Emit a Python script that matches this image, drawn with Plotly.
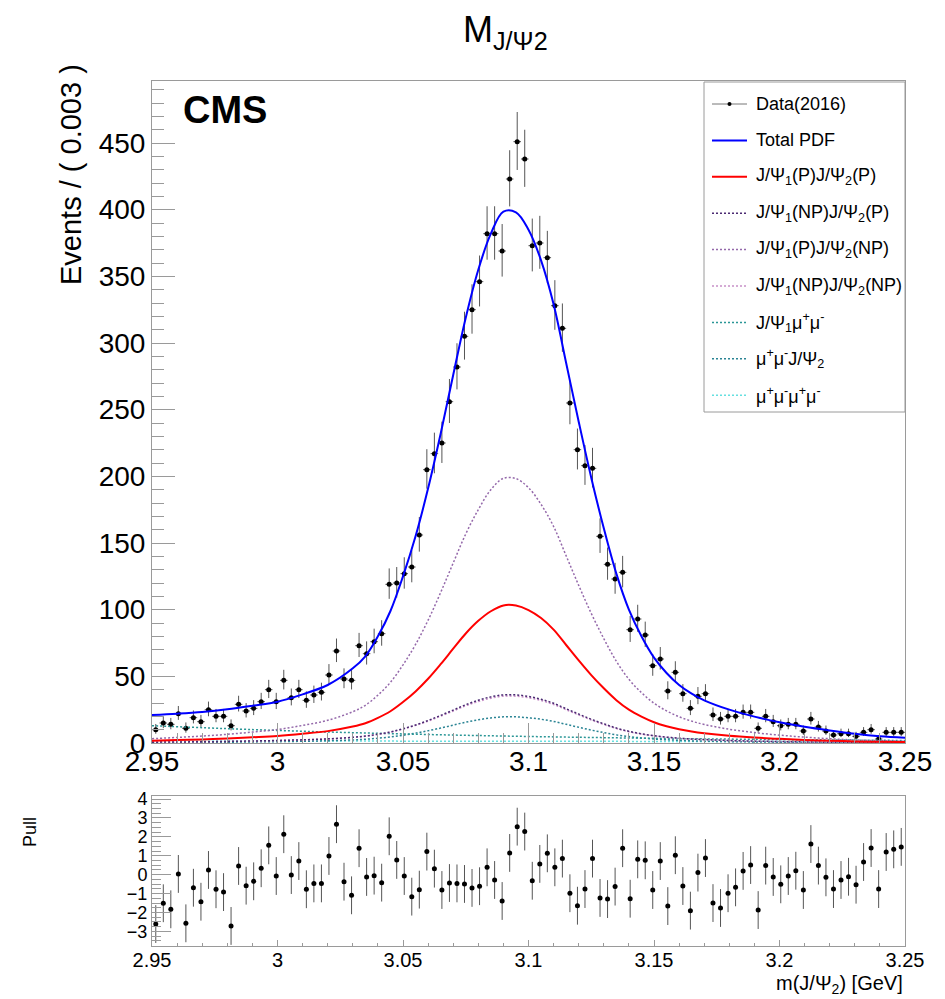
import numpy as np
import plotly.graph_objects as go

FONT = "Liberation Sans, Arial, Helvetica, sans-serif"
AXIS_GREY = "#9a9a9a"

# Binning of the data histogram
BIN_LO = 2.95
BIN_W = 0.003

# Events per bin
counts = [10, 15, 14, 22, 11, 19, 16, 25, 20, 20,
          13, 29, 24, 26, 31, 40, 31, 47, 34, 40,
          32, 36, 38, 51, 69, 48, 47, 73, 67, 76,
          82, 119, 120, 127, 132, 156, 205, 217, 225, 256,
          282, 305, 325, 346, 382, 382, 369, 423, 451, 438,
          373, 375, 364, 328, 311, 255, 220, 208, 206, 155,
          134, 123, 128, 85, 93, 81, 58, 63, 39, 53,
          37, 26, 35, 37, 21, 18, 20, 20, 23, 23,
          11, 20, 16, 13, 14, 14, 9, 18, 12, 9,
          6, 7, 7, 5, 8, 10, 3, 8, 8, 8]

# Pull per bin
pulls = [-2.61, -1.51, -1.83, 0.04, -2.57, -0.69, -1.43, 0.25, -0.77, -0.92,
         -2.71, 0.46, -0.58, -0.35, 0.34, 1.55, -0.07, 2.14, -0.02, 0.72,
         -0.77, -0.46, -0.46, 0.99, 2.67, -0.37, -1.09, 1.40, -0.12, -0.05,
         -0.42, 2.03, 0.78, -0.07, -1.16, -0.79, 1.22, 0.32, -0.81, -0.44,
         -0.46, -0.49, -0.70, -0.61, 0.39, -0.28, -1.39, 1.15, 2.54, 2.28,
         -0.32, 0.57, 1.13, 0.39, 0.85, -0.98, -1.64, -0.76, 0.85, -1.23,
         -1.29, -0.63, 1.40, -1.27, 0.81, 0.76, -0.81, 0.72, -1.66, 1.03,
         -0.60, -1.90, 0.11, 0.88, -1.50, -1.76, -0.98, -0.67, 0.20, 0.51,
         -1.87, 0.48, -0.12, -0.51, -0.07, 0.21, -0.81, 1.62, 0.48, -0.14,
         -0.76, -0.28, -0.11, -0.53, 0.67, 1.41, -0.76, 1.20, 1.34, 1.47]

# Fit curves sampled along the mass axis
curve_x = [2.95, 2.96, 2.97, 2.98, 2.99, 3.00, 3.01, 3.02, 3.03,
           3.035, 3.04, 3.045, 3.05, 3.055, 3.06, 3.065, 3.07, 3.075, 3.08,
           3.085, 3.09, 3.095, 3.10, 3.105, 3.11, 3.115, 3.12, 3.125, 3.13,
           3.135, 3.14, 3.145, 3.15, 3.155, 3.16, 3.165,
           3.17, 3.18, 3.19, 3.20, 3.21, 3.22, 3.23, 3.24, 3.25]

total_pdf = [21, 22, 23.3, 25.3, 28, 31, 36.5, 43.5, 56,
             65, 80, 99, 125, 155, 191, 232, 276, 319, 355,
             382, 398.5, 398, 385, 362, 329, 285, 241, 199, 161,
             127, 100, 80, 64, 52.5, 43.5, 37,
             32, 25, 19.8, 15.6, 12.2, 9.4, 6.9, 5.0, 3.9]

p_p = [1.7, 2.2, 2.7, 3.4, 4.3, 5.3, 6.9, 8.9, 12.3,
       14.8, 18.8, 23.8, 30.7, 38.7, 48.2, 59.1, 70.7, 82.1, 91.6,
       98.8, 103.2, 103.1, 99.7, 93.7, 85.0, 73.5, 61.9, 50.9, 41.0,
       32.1, 25.0, 19.8, 15.6, 12.6, 10.3, 8.6,
       7.3, 5.4, 4.1, 3.1, 2.3, 1.7, 1.2, 0.9, 0.7]

np_p = [0.6, 0.8, 0.9, 1.2, 1.5, 1.9, 2.4, 3.1, 4.3,
        5.2, 6.6, 8.3, 10.7, 13.5, 16.9, 20.7, 24.7, 28.7, 32.1,
        34.6, 36.1, 36.1, 34.9, 32.8, 29.8, 25.7, 21.7, 17.8, 14.4,
        11.2, 8.8, 6.9, 5.5, 4.4, 3.6, 3.0,
        2.6, 1.9, 1.4, 1.1, 0.8, 0.6, 0.4, 0.3, 0.2]

p_np = [3.2, 4.2, 5.2, 6.5, 8.2, 10.1, 13.2, 17.0, 23.5,
        28.3, 35.9, 45.5, 58.6, 73.9, 92.1, 112.9, 135.0, 156.8, 175.0,
        190.0, 198.5, 198.3, 191.5, 179.0, 162.4, 140.4, 118.2, 97.2, 78.3,
        61.3, 47.8, 37.8, 29.8, 24.1, 19.7, 16.4,
        13.9, 10.3, 7.8, 5.9, 4.4, 3.2, 2.3, 1.7, 1.3]

np_np = [0.6, 0.7, 0.9, 1.2, 1.5, 1.8, 2.3, 3.0, 4.2,
         5.0, 6.4, 8.1, 10.4, 13.2, 16.4, 20.1, 24.0, 27.9, 31.1,
         33.6, 35.1, 35.1, 33.9, 31.9, 28.9, 25.0, 21.0, 17.3, 13.9,
         10.9, 8.5, 6.7, 5.3, 4.3, 3.5, 2.9,
         2.5, 1.8, 1.4, 1.1, 0.8, 0.6, 0.4, 0.3, 0.2]

mumu_jpsi2 = [0.3, 0.4, 0.5, 0.6, 0.8, 1.0, 1.3, 1.7, 2.3,
              2.8, 3.6, 4.5, 5.8, 7.4, 9.2, 11.2, 13.4, 15.6, 17.4,
              18.8, 19.6, 19.6, 18.9, 17.8, 16.2, 14.0, 11.8, 9.7, 7.8,
              6.1, 4.8, 3.8, 3.0, 2.4, 2.0, 1.6,
              1.4, 1.0, 0.8, 0.6, 0.4, 0.3, 0.2, 0.2, 0.1]

bkg_x = [2.95, 3.00, 3.05, 3.10, 3.15, 3.20, 3.25]
jpsi1_mumu = [13.0, 9.4, 6.8, 4.9, 3.5, 2.6, 1.9]
mumu_mumu = [1.6, 1.5, 1.4, 1.3, 1.2, 1.1, 1.0]

# name, values, x, colour, width, dash
CURVES = [
    ("Total PDF", total_pdf, curve_x, "#0000ff", 2, "solid"),
    ("J/Ψ<sub>1</sub>(P)J/Ψ<sub>2</sub>(P)", p_p, curve_x, "#ff0000", 2, "solid"),
    ("J/Ψ<sub>1</sub>(NP)J/Ψ<sub>2</sub>(P)", np_p, curve_x, "#4a2a72", 1.5, "2px,2px"),
    ("J/Ψ<sub>1</sub>(P)J/Ψ<sub>2</sub>(NP)", p_np, curve_x, "#9468aa", 1.5, "2px,2px"),
    ("J/Ψ<sub>1</sub>(NP)J/Ψ<sub>2</sub>(NP)", np_np, curve_x, "#c890c8", 1.5, "2px,2px"),
    ("J/Ψ<sub>1</sub>μ<sup>+</sup>μ<sup>-</sup>", jpsi1_mumu, bkg_x, "#2a9696", 1.5, "2px,2px"),
    ("μ<sup>+</sup>μ<sup>-</sup>J/Ψ<sub>2</sub>", mumu_jpsi2, curve_x, "#2a8494", 1.5, "2px,2px"),
    ("μ<sup>+</sup>μ<sup>-</sup>μ<sup>+</sup>μ<sup>-</sup>", mumu_mumu, bkg_x, "#66e0e0", 1.5, "2px,2px"),
]

# Page geometry: the html body has an 8px margin, so the figure is drawn
# 8px in from the top-left corner of the window.
OFF = 8
W, H = 945 - OFF, 999 - OFF
PLOT_L, PLOT_R, PLOT_T, PLOT_B = 152, 905, 81, 946   # in window pixels
PW = PLOT_R - PLOT_L
PH = PLOT_B - PLOT_T
MARGIN = dict(l=PLOT_L - OFF, r=W - (PLOT_R - OFF), t=PLOT_T - OFF, b=H - (PLOT_B - OFF))


def px_x(px):
    return (px - PLOT_L) / PW


def px_y(py):
    return (PLOT_B - py) / PH


def poisson_errors(n):
    """68% Poisson interval (Wilson-Hilferty), as RooFit draws it."""
    n = np.asarray(n, dtype=float)
    up = (n + 1) * (1 - 1 / (9 * (n + 1)) + 1 / (3 * np.sqrt(n + 1))) ** 3 - n
    nn = np.maximum(n, 1)
    lo = n - n * (1 - 1 / (9 * nn) - 1 / (3 * np.sqrt(nn))) ** 3
    return lo, up


centers = BIN_LO + BIN_W * (np.arange(len(counts)) + 0.5)
err_lo, err_hi = poisson_errors(counts)

fig = go.Figure()

fig.add_trace(go.Scatter(
    x=centers, y=counts, mode="markers", name="Data(2016)",
    marker=dict(color="black", size=5),
    error_y=dict(type="data", symmetric=False, array=err_hi, arrayminus=err_lo,
                 thickness=1, width=0, color="#555"),
    error_x=dict(type="constant", value=BIN_W / 2, thickness=1, width=0, color="#555"),
    xaxis="x", yaxis="y", showlegend=False,
))

for name, vals, xs, col, w, dash in reversed(CURVES):
    fig.add_trace(go.Scatter(
        x=xs, y=vals, mode="lines", name=name,
        line=dict(color=col, width=w, dash=dash, shape="spline", smoothing=1.0),
        xaxis="x", yaxis="y", showlegend=False,
    ))

fig.add_trace(go.Scatter(
    x=centers, y=pulls, mode="markers",
    marker=dict(color="black", size=5),
    error_y=dict(type="constant", value=1, thickness=1, width=0, color="#555"),
    xaxis="x2", yaxis="y2", showlegend=False,
))

main_bottom = px_y(743)
pull_top = px_y(796)

axis_common = dict(
    showline=True, linecolor=AXIS_GREY, linewidth=1, mirror=True,
    showgrid=False, zeroline=False, ticks="inside", tickcolor=AXIS_GREY,
    tickfont=dict(family=FONT, color="black"),
)

fig.update_layout(
    width=W, height=H,
    margin=MARGIN,
    plot_bgcolor="white", paper_bgcolor="white",
    font=dict(family=FONT, color="black"),
    showlegend=False,
    xaxis=dict(axis_common, domain=[0, 1], range=[2.95, 3.25], anchor="y",
               tick0=2.95, dtick=0.05, ticklen=20, tickfont_size=28,
               ticklabelstandoff=-7,
               minor=dict(dtick=0.01, ticklen=10, ticks="inside", tickcolor=AXIS_GREY)),
    yaxis=dict(axis_common, domain=[main_bottom, 1], range=[0, 496.5], anchor="x",
               tick0=0, dtick=50, ticklen=23, tickfont_size=28,
               minor=dict(dtick=10, ticklen=12, ticks="inside", tickcolor=AXIS_GREY)),
    xaxis2=dict(axis_common, domain=[0, 1], range=[2.95, 3.25], anchor="y2",
                tick0=2.95, dtick=0.05, ticklen=6, tickfont_size=20,
                ticklabelstandoff=-4,
                minor=dict(dtick=0.01, ticklen=3, ticks="inside", tickcolor=AXIS_GREY)),
    yaxis2=dict(axis_common, domain=[0, pull_top], range=[-3.77, 4.16], anchor="x2",
                tick0=0, dtick=1, ticklen=19, tickfont_size=18,
                minor=dict(dtick=0.25, ticklen=9, ticks="inside", tickcolor=AXIS_GREY)),
)

# Titles and labels
fig.add_annotation(text="M<sub>J/Ψ2</sub>", xref="paper", yref="paper",
                   x=px_x(505), y=px_y(32), xanchor="center", yanchor="middle",
                   showarrow=False, font=dict(size=36, family=FONT))
fig.add_annotation(text="<b>CMS</b>", xref="paper", yref="paper",
                   x=px_x(181), y=px_y(110), xanchor="left", yanchor="middle",
                   showarrow=False, font=dict(size=38, family=FONT))
fig.add_annotation(text="Events / ( 0.003 )", xref="paper", yref="paper",
                   x=px_x(71), y=px_y(175), xanchor="center", yanchor="middle",
                   textangle=-90, showarrow=False, font=dict(size=29, family=FONT))
fig.add_annotation(text="Pull", xref="paper", yref="paper",
                   x=px_x(30), y=px_y(832), xanchor="center", yanchor="middle",
                   textangle=-90, showarrow=False, font=dict(size=18, family=FONT))
fig.add_annotation(text="m(J/Ψ<sub>2</sub>) [GeV]", xref="paper", yref="paper",
                   x=1, y=px_y(984), xanchor="right", yanchor="middle",
                   showarrow=False, font=dict(size=20, family=FONT))

# Legend box drawn like the ROOT TLegend
fig.add_shape(type="rect", xref="paper", yref="paper",
              x0=px_x(704), x1=1, y0=px_y(412), y1=px_y(82),
              fillcolor="white", line=dict(color=AXIS_GREY, width=1), layer="above")

legend_rows = [("Data(2016)", "#777", 1, "solid")] + [(c[0], c[3], c[4], c[5]) for c in CURVES]
for k, (label, col, w, dash) in enumerate(legend_rows):
    yc = px_y(104 + 36.4 * k)
    fig.add_shape(type="line", xref="paper", yref="paper",
                  x0=px_x(712), x1=px_x(747), y0=yc, y1=yc,
                  line=dict(color=col, width=w, dash=dash), layer="above")
    if k == 0:
        fig.add_shape(type="circle", xref="paper", yref="paper",
                      x0=px_x(727.5), x1=px_x(731.5), y0=yc - 2 / PH, y1=yc + 2 / PH,
                      fillcolor="black", line=dict(color="black", width=0), layer="above")
    fig.add_annotation(text=label, xref="paper", yref="paper",
                       x=px_x(754), y=yc, xanchor="left", yanchor="middle",
                       showarrow=False, font=dict(size=18, family=FONT))

fig.write_html("out.html")
